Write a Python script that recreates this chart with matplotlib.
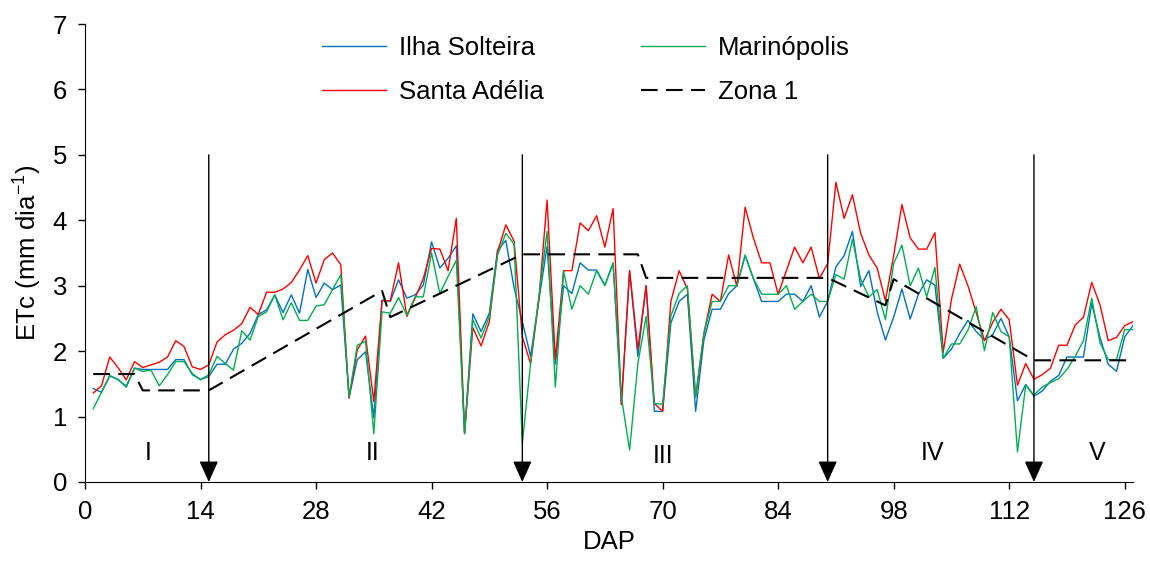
import numpy as np
import matplotlib
matplotlib.use("Agg")
import matplotlib.pyplot as plt

plt.rcParams['font.family'] = ['Liberation Sans', 'DejaVu Sans']
plt.rcParams['mathtext.fontset'] = 'custom'
plt.rcParams['mathtext.rm'] = 'Liberation Sans'
plt.rcParams['mathtext.it'] = 'Liberation Sans'

# ---------- data ----------
days = np.arange(1, 128)

ilha_solteira = [
    1.43, 1.37, 1.62, 1.57, 1.45, 1.74, 1.72, 1.72, 1.72, 1.72,
    1.87, 1.87, 1.64, 1.57, 1.61, 1.80, 1.80, 2.03, 2.12, 2.27,
    2.56, 2.63, 2.86, 2.59, 2.86, 2.58, 3.25, 2.82, 3.04, 2.94,
    3.01, 1.30, 1.87, 1.99, 0.98, 2.78, 2.76, 3.09, 2.81, 2.86,
    3.01, 3.67, 3.27, 3.42, 3.61, 0.74, 2.57, 2.30, 2.58, 3.55,
    3.69, 2.97, 2.45, 1.92, 2.78, 3.60, 1.80, 3.00, 2.88, 3.35,
    3.24, 3.24, 3.01, 3.34, 1.20, 3.23, 1.92, 3.00, 1.08, 1.08,
    2.43, 2.76, 2.87, 1.08, 2.17, 2.64, 2.64, 2.88, 3.00, 3.46,
    3.11, 2.76, 2.76, 2.76, 2.87, 2.87, 2.76, 3.00, 2.52, 2.76,
    3.29, 3.46, 3.83, 2.99, 3.23, 2.60, 2.17, 2.52, 2.95, 2.49,
    2.87, 3.09, 3.01, 1.89, 2.03, 2.27, 2.47, 2.30, 2.17, 2.25,
    2.50, 2.22, 1.24, 1.49, 1.31, 1.39, 1.54, 1.63, 1.91, 1.91,
    1.91, 2.73, 2.21, 1.80, 1.69, 2.22, 2.39,
]

marinopolis = [
    1.12, 1.37, 1.63, 1.56, 1.47, 1.74, 1.69, 1.71, 1.47, 1.64,
    1.84, 1.84, 1.66, 1.56, 1.64, 1.92, 1.81, 1.71, 2.31, 2.17,
    2.53, 2.60, 2.86, 2.48, 2.74, 2.47, 2.47, 2.69, 2.71, 2.94,
    3.17, 1.30, 2.09, 2.15, 0.74, 2.60, 2.58, 2.82, 2.55, 2.83,
    2.83, 3.50, 2.88, 3.14, 3.39, 0.74, 2.48, 2.20, 2.53, 3.47,
    3.80, 3.64, 0.59, 1.81, 2.83, 3.83, 1.45, 3.22, 2.64, 3.00,
    2.87, 3.23, 3.00, 3.35, 1.30, 0.49, 1.81, 2.53, 1.20, 1.19,
    2.54, 2.88, 3.00, 1.30, 2.27, 2.76, 2.76, 3.00, 3.00, 3.47,
    3.11, 2.87, 2.87, 2.87, 3.00, 2.64, 2.76, 2.87, 2.76, 2.76,
    3.17, 3.10, 3.71, 3.10, 2.83, 2.94, 2.48, 3.34, 3.62, 3.00,
    3.27, 2.83, 3.28, 1.89, 2.11, 2.11, 2.32, 2.68, 2.01, 2.59,
    2.30, 2.22, 0.46, 1.48, 1.33, 1.45, 1.52, 1.58, 1.72, 1.92,
    2.16, 2.81, 2.13, 1.87, 1.87, 2.33, 2.33,
]

santa_adelia = [
    1.36, 1.47, 1.91, 1.75, 1.56, 1.84, 1.75, 1.79, 1.83, 1.91,
    2.16, 2.07, 1.76, 1.72, 1.79, 2.14, 2.25, 2.32, 2.42, 2.67,
    2.56, 2.90, 2.90, 2.95, 3.05, 3.24, 3.46, 3.04, 3.40, 3.50,
    3.32, 1.28, 2.02, 2.23, 1.23, 2.77, 2.77, 3.35, 2.53, 2.81,
    3.11, 3.57, 3.56, 3.23, 4.03, 0.74, 2.36, 2.08, 2.45, 3.52,
    3.93, 3.68, 2.22, 1.81, 2.78, 4.31, 1.87, 3.23, 3.23, 3.96,
    3.84, 4.07, 3.59, 4.18, 1.18, 3.23, 2.03, 3.00, 1.20, 1.08,
    2.76, 3.23, 2.95, 1.30, 2.27, 2.87, 2.76, 3.47, 2.99, 4.20,
    3.73, 3.35, 3.35, 2.87, 3.23, 3.59, 3.35, 3.59, 3.11, 3.34,
    4.58, 4.03, 4.39, 3.80, 3.47, 3.27, 2.77, 3.46, 4.24, 3.73,
    3.56, 3.56, 3.81, 1.98, 2.79, 3.33, 3.00, 2.59, 2.16, 2.44,
    2.64, 2.48, 1.48, 1.81, 1.57, 1.64, 1.74, 2.09, 2.09, 2.40,
    2.52, 3.05, 2.71, 2.16, 2.21, 2.39, 2.45,
]

# Zona 1 reference curve (breakpoints)
zona_days = [1, 6, 7, 15, 36, 37, 53, 67, 68, 90, 97, 98, 115, 127]
zona_vals = [1.65, 1.65, 1.40, 1.40, 2.92, 2.52, 3.48, 3.48, 3.12, 3.12,
             2.70, 3.10, 1.86, 1.86]

# phase limits and labels
phase_ends = [15, 53, 90, 115]
phase_labels = ['I', 'II', 'III', 'IV', 'V']
phase_label_x = [7.6, 34.9, 70.1, 102.7, 122.7]
phase_label_y = [0.44, 0.44, 0.40, 0.44, 0.44]

# ---------- plot ----------
fig = plt.figure(figsize=(11.5, 5.63), dpi=100)
ax = fig.add_axes([0.0739, 0.1439, 0.9113, 0.8134])

ax.plot(days, ilha_solteira, color='#0070C0', lw=1.0, label='Ilha Solteira')
ax.plot(days, santa_adelia, color='#FF0000', lw=1.0, label='Santa Adélia')
ax.plot(days, marinopolis, color='#00B050', lw=1.0, label='Marinópolis')
ax.plot(zona_days, zona_vals, color='black', lw=1.5, linestyle=(0, (8, 4)),
        label='Zona 1')

# vertical arrows marking the phases
for d in phase_ends:
    ax.annotate('', xy=(d, 0), xytext=(d, 5),
                arrowprops=dict(arrowstyle='-|>,head_length=1.0,head_width=0.45',
                                color='black', lw=1.0, mutation_scale=13,
                                shrinkA=0, shrinkB=0))

for lab, x, y in zip(phase_labels, phase_label_x, phase_label_y):
    ax.text(x, y, lab, fontsize=18, ha='center', va='center')

ax.set_xlim(0, 127)
ax.set_ylim(0, 7)
ax.set_xticks(np.arange(0, 127, 14))
ax.set_yticks(np.arange(0, 8, 1))
ax.tick_params(direction='out', length=5, width=1, labelsize=18.5, pad=8)
for s in ('top', 'right'):
    ax.spines[s].set_visible(False)

ax.set_xlabel('DAP', fontsize=18.5, labelpad=4)
ax.set_ylabel('ETc (mm dia$^{-1}$)', fontsize=18.5, labelpad=6)

ax.legend(loc='upper center', bbox_to_anchor=(0.478, 1.024), ncol=2,
          frameon=False, fontsize=18.5, handlelength=2.5, handletextpad=0.5,
          columnspacing=3.8, labelspacing=0.78)

fig.savefig('out.png', dpi=100)
